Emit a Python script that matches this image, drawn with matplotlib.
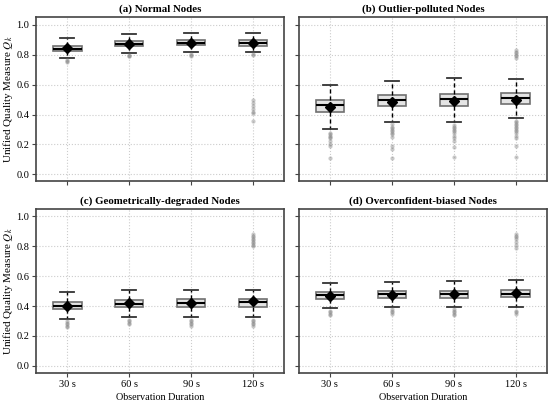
import matplotlib
matplotlib.use('Agg')
import matplotlib.pyplot as plt

# durations on the x axis
durations = ["30 s", "60 s", "90 s", "120 s"]
titles = ["(a) Normal Nodes", "(b) Outlier-polluted Nodes",
          "(c) Geometrically-degraded Nodes", "(d) Overconfident-biased Nodes"]

# per panel, per duration: whisker low, Q1, median, Q3, whisker high, mean
normal_whislo = [0.779, 0.812, 0.819, 0.817]
normal_q1 = [0.823, 0.857, 0.864, 0.861]
normal_med = [0.841, 0.875, 0.881, 0.881]
normal_q3 = [0.859, 0.893, 0.899, 0.899]
normal_whishi = [0.911, 0.942, 0.946, 0.946]
normal_mean = [0.843, 0.872, 0.879, 0.877]
normal_fliers = [
    [0.765, 0.758, 0.752],
    [0.800, 0.795, 0.790],
    [0.805, 0.798, 0.792],
    [0.805, 0.798, 0.50, 0.48, 0.46, 0.44, 0.42, 0.41, 0.36],
]

outlier_whislo = [0.304, 0.353, 0.349, 0.374]
outlier_q1 = [0.418, 0.456, 0.459, 0.470]
outlier_med = [0.465, 0.497, 0.506, 0.510]
outlier_q3 = [0.499, 0.528, 0.537, 0.544]
outlier_whishi = [0.597, 0.626, 0.642, 0.640]
outlier_mean = [0.450, 0.481, 0.488, 0.497]
outlier_fliers = [
    [0.28, 0.27, 0.26, 0.25, 0.24, 0.22, 0.20, 0.19, 0.107],
    [0.335, 0.32, 0.31, 0.30, 0.29, 0.28, 0.27, 0.25, 0.19, 0.17, 0.112],
    [0.33, 0.32, 0.31, 0.30, 0.29, 0.28, 0.26, 0.24, 0.22, 0.18, 0.116],
    [0.36, 0.35, 0.34, 0.33, 0.32, 0.31, 0.30, 0.29, 0.28, 0.26, 0.24,
     0.192, 0.119, 0.83, 0.82, 0.81, 0.80, 0.79, 0.78],
]

geo_whislo = [0.313, 0.327, 0.329, 0.329]
geo_q1 = [0.380, 0.394, 0.396, 0.396]
geo_med = [0.400, 0.414, 0.418, 0.425]
geo_q3 = [0.425, 0.443, 0.445, 0.447]
geo_whishi = [0.492, 0.508, 0.510, 0.510]
geo_mean = [0.403, 0.418, 0.418, 0.434]
geo_fliers = [
    [0.30, 0.29, 0.28, 0.27, 0.26],
    [0.31, 0.30, 0.29, 0.28],
    [0.31, 0.30, 0.29, 0.28, 0.27],
    [0.31, 0.30, 0.29, 0.28, 0.27,
     0.88, 0.87, 0.86, 0.85, 0.84, 0.83, 0.82, 0.81, 0.80],
]

conf_whislo = [0.387, 0.396, 0.396, 0.394]
conf_q1 = [0.447, 0.454, 0.456, 0.459]
conf_med = [0.472, 0.479, 0.481, 0.483]
conf_q3 = [0.494, 0.501, 0.503, 0.506]
conf_whishi = [0.557, 0.564, 0.566, 0.573]
conf_mean = [0.468, 0.477, 0.479, 0.490]
conf_fliers = [
    [0.37, 0.36, 0.35, 0.34],
    [0.38, 0.37, 0.36, 0.35],
    [0.38, 0.37, 0.36, 0.35, 0.34],
    [0.37, 0.36, 0.35,
     0.88, 0.87, 0.86, 0.85, 0.83, 0.81, 0.79],
]

panels = [
    (normal_whislo, normal_q1, normal_med, normal_q3, normal_whishi, normal_mean, normal_fliers),
    (outlier_whislo, outlier_q1, outlier_med, outlier_q3, outlier_whishi, outlier_mean, outlier_fliers),
    (geo_whislo, geo_q1, geo_med, geo_q3, geo_whishi, geo_mean, geo_fliers),
    (conf_whislo, conf_q1, conf_med, conf_q3, conf_whishi, conf_mean, conf_fliers),
]

plt.rcParams['font.family'] = ['Liberation Serif', 'DejaVu Serif']
plt.rcParams['mathtext.fontset'] = 'stix'

fig, axes = plt.subplots(2, 2, figsize=(5.5, 4.05), dpi=100)
fig.subplots_adjust(left=0.066, right=0.994, top=0.957, bottom=0.08,
                    hspace=0.17, wspace=0.06)

for k, ax in enumerate(axes.flat):
    lo, q1, med, q3, hi, mean, fl = panels[k]
    stats = []
    for i in range(len(durations)):
        stats.append(dict(whislo=lo[i], q1=q1[i], med=med[i], q3=q3[i],
                          whishi=hi[i], mean=mean[i], fliers=fl[i]))
    ax.bxp(stats, positions=range(1, 5), widths=0.46, capwidths=0.23,
           patch_artist=True, showmeans=True, zorder=3,
           boxprops=dict(facecolor="#e4e4e4", edgecolor="#707070", linewidth=1.2),
           medianprops=dict(color="black", linewidth=1.5),
           whiskerprops=dict(color="black", linestyle=(0, (3, 2)), linewidth=1.0),
           capprops=dict(color="#333333", linewidth=1.3),
           meanprops=dict(marker="D", markerfacecolor="black",
                          markeredgecolor="black", markersize=5.5),
           flierprops=dict(marker="o", markerfacecolor="#888888",
                           markeredgecolor="none", markersize=3, alpha=0.45))
    ax.set_xlim(0.5, 4.5)
    ax.set_ylim(-0.045, 1.05)
    ax.set_yticks([0.0, 0.2, 0.4, 0.6, 0.8, 1.0])
    ax.set_xticks(range(1, 5))
    ax.grid(True, color="#cccccc", linestyle=":", linewidth=0.8, zorder=0)
    ax.set_axisbelow(True)
    for s in ax.spines.values():
        s.set_color("#444444")
        s.set_linewidth(1.2)
    ax.tick_params(labelsize=7.5, color="#444444", length=3, pad=2)
    ax.set_title(titles[k], fontsize=7.8, fontweight="bold", pad=4)
    if k % 2 == 0:
        ax.set_ylabel("Unified Quality Measure $Q_k$", fontsize=8, labelpad=1)
        ax.set_yticklabels(["0.0", "0.2", "0.4", "0.6", "0.8", "1.0"])
    else:
        ax.set_yticklabels([])
    if k >= 2:
        ax.set_xticklabels(durations)
        ax.set_xlabel("Observation Duration", fontsize=7.3, labelpad=3)
    else:
        ax.set_xticklabels([])

plt.savefig("out.png", dpi=100)
